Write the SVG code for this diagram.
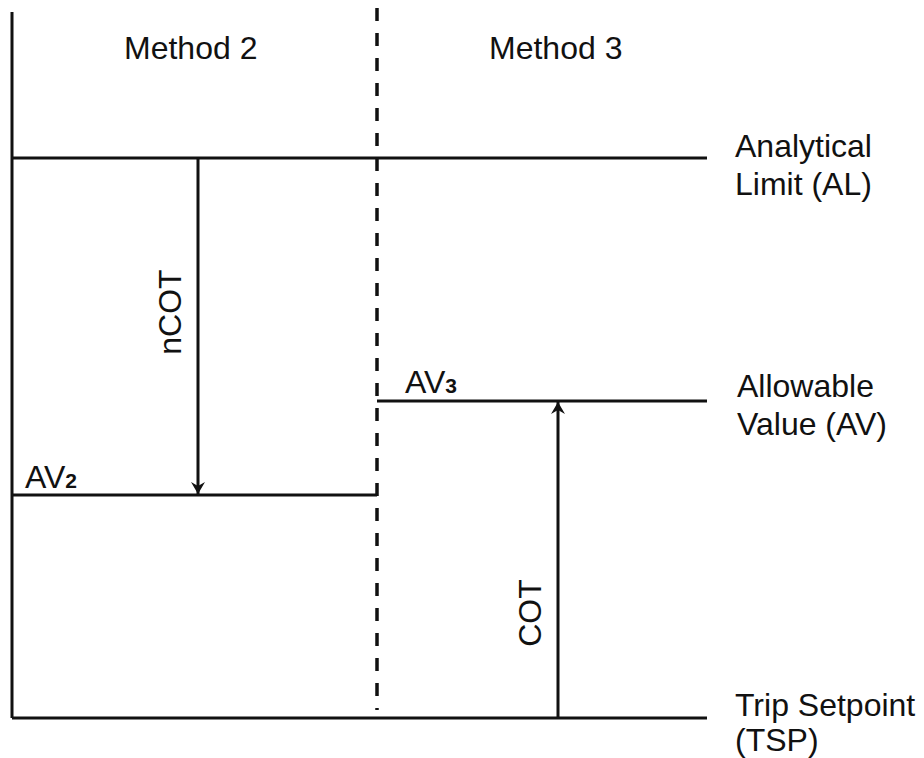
<svg xmlns="http://www.w3.org/2000/svg" width="924" height="758" viewBox="0 0 924 758">
<style>
text{font-family:"Liberation Sans",Arial,sans-serif;font-size:32px;fill:#111}
.sub{font-size:21px;font-weight:bold}
.ln{stroke:#111;stroke-width:3;fill:none}
.dash{stroke:#111;stroke-width:3.5;stroke-dasharray:13 12;fill:none}
</style>
<defs>
<marker id="ah" viewBox="0 0 12 14" refX="12" refY="7" markerWidth="12" markerHeight="14" markerUnits="userSpaceOnUse" orient="auto">
<path d="M0,0 L12,7 L0,14 L4,7 Z" fill="#111"/>
</marker>
</defs>
<rect width="924" height="758" fill="#fff"/>
<g id="frame">
<line class="ln" x1="12" y1="12" x2="12" y2="718"/>
<line class="dash" x1="377" y1="8" x2="377" y2="710"/>
</g>
<g id="method2"><text x="124" y="59">Method 2</text></g>
<g id="method3"><text x="489" y="59">Method 3</text></g>
<g id="al">
<line class="ln" x1="12" y1="158" x2="707" y2="158"/>
<text x="735" y="157">Analytical</text>
<text x="735" y="195">Limit (AL)</text>
</g>
<g id="av">
<line class="ln" x1="377" y1="401" x2="707" y2="401"/>
<text x="405" y="393">AV<tspan class="sub">3</tspan></text>
<text x="737" y="397">Allowable</text>
<text x="737" y="435">Value (AV)</text>
</g>
<g id="av2">
<line class="ln" x1="12" y1="495" x2="377" y2="495"/>
<text x="25" y="488">AV<tspan class="sub">2</tspan></text>
</g>
<g id="tsp">
<line class="ln" x1="12" y1="718" x2="707" y2="718"/>
<text x="735" y="716">Trip Setpoint</text>
<text x="735" y="751">(TSP)</text>
</g>
<g id="connectors">
<line class="ln" x1="198" y1="158" x2="198" y2="494" marker-end="url(#ah)"/>
<line class="ln" x1="558" y1="718" x2="558" y2="402" marker-end="url(#ah)"/>
</g>
<g id="labels">
<text transform="translate(181,312) rotate(-90)" text-anchor="middle">nCOT</text>
<text transform="translate(541,613) rotate(-90)" text-anchor="middle">COT</text>
</g>
</svg>
